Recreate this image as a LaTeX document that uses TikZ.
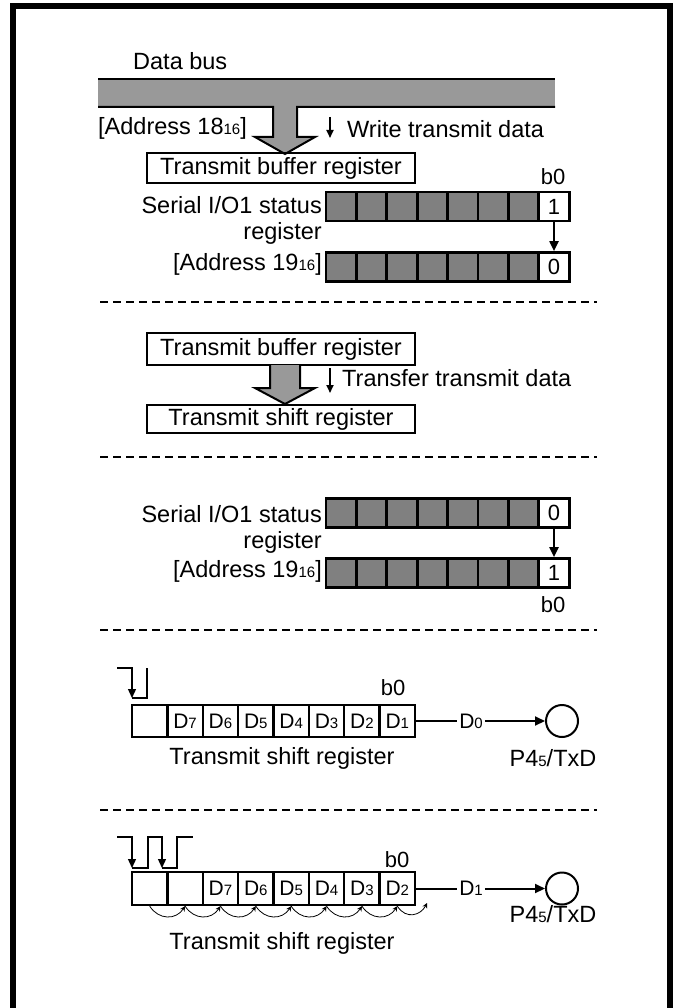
\documentclass[tikz,border=0pt]{standalone}
\usepackage{fontspec}
\setmainfont{Liberation Sans}
\usetikzlibrary{arrows.meta}
\definecolor{busgray}{RGB}{153,153,153}
\definecolor{cellgray}{RGB}{128,128,128}
\newcommand\lowidx[1]{{\fontsize{15}{15}\selectfont #1}}
\begin{document}
\begin{tikzpicture}[x=1pt,y=-1pt,
  txt/.style={font=\fontsize{23.5}{26}\selectfont, inner sep=0pt},
  bitlbl/.style={font=\fontsize{22}{23}\selectfont, inner sep=0pt},
  regbox/.style={draw, line width=2pt, minimum width=268pt, inner sep=0pt, font=\fontsize{23.5}{26}\selectfont},
  gcell/.style={draw, line width=2.7pt, fill=cellgray, minimum width=30.4pt, minimum height=29pt, inner sep=0pt},
  wcell/.style={gcell, fill=white, font=\fontsize{22}{23}\selectfont},
  dcell/.style={draw, line width=2.3pt, minimum width=35.4pt, inner sep=0pt, font=\fontsize{21}{22}\selectfont},
  sepline/.style={line width=2pt, dash pattern=on 8pt off 5pt},
  tipline/.style={-{Triangle[length=10pt,width=9pt]}, line width=2pt},
  smalltip/.style={-{Triangle[length=8pt,width=7pt]}, line width=1.8pt},
  clk/.style={line width=1.3pt},
  clktip/.style={clk, -{Triangle[length=9pt,width=8pt]}},
  shiftarc/.style={line width=0.8pt, -{Stealth[length=5pt,width=5pt]}},
  pin/.style={circle, draw, line width=2pt, minimum size=32pt, inner sep=0pt},
  dlbl/.style={font=\fontsize{21}{22}\selectfont, inner sep=2pt}
]
\useasboundingbox (0,0) rectangle (675,1008);
% frame
\draw[line width=6pt] (13,1012) -- (13,6) -- (669.5,6) -- (669.5,1012);

% ---------- section 1 ----------
\node[txt, anchor=west] (databus) at (133,61) {Data bus};
\fill[busgray] (98,79) rectangle (555,107);
\fill[busgray] (273,106) -- (273,137) -- (255,137) -- (285,154) -- (315,137) -- (297,137) -- (297,106) -- cycle;
\draw[line width=2pt] (98,79) -- (555,79);
\draw[line width=2pt] (98,107) -- (273,107) -- (273,137) -- (255,137) -- (285,154) -- (315,137) -- (297,137) -- (297,107) -- (555,107);
\node[txt, anchor=west] (addr18) at (98,128) {[Address 18\lowidx{16}]};
\coordinate (wa1) at (330,117);
\coordinate (wa2) at (330,138);
\draw[smalltip] (wa1) -- (wa2);
\node[txt, anchor=west] (wtd) at (347,129) {Write transmit data};
\node[regbox, minimum height=30pt] (tbr1) at (281,168) {Transmit buffer register};
\node[bitlbl] (b0a) at (553,177) {b0};
\foreach \i in {0,...,6} \node[gcell] (ra\i) at (326+15.2+30.4*\i,206.5) {};
\node[wcell] (ra7) at (554,206.5) {1};
\foreach \i in {0,...,6} \node[gcell] (rb\i) at (326+15.2+30.4*\i,267) {};
\node[wcell] (rb7) at (554,267) {0};
\draw[tipline] (ra7.south) -- (rb7.north);
\node[txt, anchor=east] (sio1a) at (322,205) {Serial I/O1 status};
\node[txt, anchor=east] (rega) at (322,233) {register};
\node[txt, anchor=east] (addr19a) at (322,264) {[Address 19\lowidx{16}]};

\draw[sepline] (100,302) -- (597,302);

% ---------- section 2 ----------
\node[regbox, minimum height=32pt] (tbr2) at (281,349) {Transmit buffer register};
\filldraw[fill=busgray, line width=2pt] (270,365) -- (270,388) -- (255,388) -- (285,404) -- (315,388) -- (300,388) -- (300,365);
\coordinate (ta1) at (330,368);
\coordinate (ta2) at (330,393);
\draw[smalltip] (ta1) -- (ta2);
\node[txt, anchor=west] (ttd) at (342,378) {Transfer transmit data};
\node[regbox, minimum height=28pt] (tsr2) at (281,419) {Transmit shift register};

\draw[sepline] (100,457) -- (597,457);

% ---------- section 3 ----------
\foreach \i in {0,...,6} \node[gcell] (rc\i) at (326+15.2+30.4*\i,513) {};
\node[wcell] (rc7) at (554,513) {0};
\foreach \i in {0,...,6} \node[gcell] (rd\i) at (326+15.2+30.4*\i,573) {};
\node[wcell] (rd7) at (554,573) {1};
\draw[tipline] (rc7.south) -- (rd7.north);
\node[txt, anchor=east] (sio1b) at (322,514) {Serial I/O1 status};
\node[txt, anchor=east] (regb) at (322,542) {register};
\node[txt, anchor=east] (addr19b) at (322,571) {[Address 19\lowidx{16}]};
\node[bitlbl] (b0b) at (553,605) {b0};

\draw[sepline] (100,630) -- (597,630);

% ---------- section 4 ----------
\coordinate (ca0) at (117,668);
\coordinate (ca1) at (132,668);
\coordinate (ca2) at (132,698);
\coordinate (ca3) at (147,698);
\coordinate (ca4) at (147,668);
\draw[clktip] (ca0) -- (ca1) -- (ca2);
\draw[clk] (ca2) -- (ca3) -- (ca4);
\foreach \i/\t in {0/{},1/{D\lowidx{7}},2/{D\lowidx{6}},3/{D\lowidx{5}},4/{D\lowidx{4}},5/{D\lowidx{3}},6/{D\lowidx{2}},7/{D\lowidx{1}}}
  \node[dcell, minimum height=32pt] (sa\i) at (132+17.69+35.375*\i,721) {\t};
\node[bitlbl] (b0c) at (393,688) {b0};
\node[dlbl] (dz) at (471,721) {D\lowidx{0}};
\node[pin] (pina) at (562,721) {};
\draw[line width=2pt] (sa7.east) -- (dz.west);
\draw[tipline] (dz.east) -- (pina.west);
\node[txt] (p45a) at (553,758) {P4\lowidx{5}/TxD};
\node[txt] (tsra) at (282,758) {Transmit shift register};

\draw[sepline] (100,810) -- (597,810);

% ---------- section 5 ----------
\coordinate (cb0) at (117,837);
\coordinate (cb1) at (132,837);
\coordinate (cb2) at (132,868);
\coordinate (cb3) at (148,868);
\coordinate (cb4) at (148,837);
\coordinate (cb5) at (162,837);
\coordinate (cb6) at (162,868);
\coordinate (cb7) at (177,868);
\coordinate (cb8) at (177,837);
\coordinate (cb9) at (193,837);
\draw[clktip] (cb0) -- (cb1) -- (cb2);
\draw[clk] (cb2) -- (cb3) -- (cb4) -- (cb5);
\draw[clktip] (cb4) -- (cb5) -- (cb6);
\draw[clk] (cb6) -- (cb7) -- (cb8) -- (cb9);
\foreach \i/\t in {0/{},1/{},2/{D\lowidx{7}},3/{D\lowidx{6}},4/{D\lowidx{5}},5/{D\lowidx{4}},6/{D\lowidx{3}},7/{D\lowidx{2}}}
  \node[dcell, minimum height=33pt] (sb\i) at (132+17.69+35.375*\i,888.5) {\t};
\coordinate (sbout) at (427,903);
\foreach \i/\j in {0/1,1/2,2/3,3/4,4/5,5/6,6/7}
  \draw[shiftarc] (sb\i.south) .. controls +(9,14) and +(-9,14) .. (sb\j.south);
\draw[shiftarc] (sb7.south) .. controls +(9,14) and +(-6,12) .. (sbout);
\node[bitlbl] (b0d) at (397,860) {b0};
\node[dlbl] (done) at (471,888.5) {D\lowidx{1}};
\node[pin] (pinb) at (562,888.5) {};
\draw[line width=2pt] (sb7.east) -- (done.west);
\draw[tipline] (done.east) -- (pinb.west);
\node[txt] (p45b) at (553,914) {P4\lowidx{5}/TxD};
\node[txt] (tsrb) at (282,943) {Transmit shift register};
\end{tikzpicture}
\end{document}
